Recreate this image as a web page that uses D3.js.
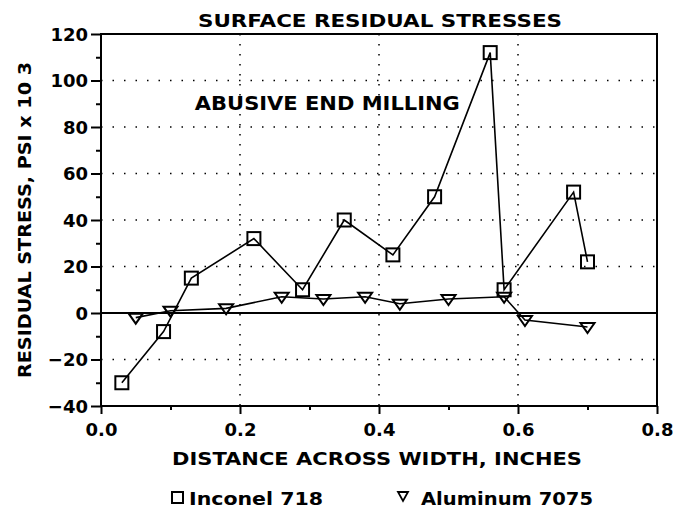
<!DOCTYPE html>
<html>
<head>
<meta charset="utf-8">
<script src="https://cdn.jsdelivr.net/npm/d3@7"></script>
<style>
  body { margin: 0; background: #fff; }
  text { font-family: "DejaVu Sans", sans-serif; font-weight: bold; fill: #000; }
</style>
</head>
<body>
<div id="chart"></div>
<script>
// data
const inconelX = [0.03, 0.09, 0.13, 0.22, 0.29, 0.35, 0.42, 0.48, 0.56, 0.58, 0.68, 0.70]
const inconelY = [-30, -8, 15, 32, 10, 40, 25, 50, 112, 10, 52, 22]
const aluminumX = [0.05, 0.10, 0.18, 0.26, 0.32, 0.38, 0.43, 0.50, 0.58, 0.61, 0.70]
const aluminumY = [-2, 1, 2, 7, 6, 7, 4, 6, 7, -3, -6]
const xTicks = [0.0, 0.2, 0.4, 0.6, 0.8]
const yTicks = [-40, -20, 0, 20, 40, 60, 80, 100, 120]

const W = 673, H = 509
const margin = { top: 34, right: 16, bottom: 103, left: 101 }
const width = W - margin.left - margin.right,
  height = H - margin.top - margin.bottom

const svg = d3.select("#chart").append("svg")
  .attr("width", W)
  .attr("height", H)

const g = svg.append("g")
  .attr("transform", `translate(${margin.left},${margin.top})`)

const x = d3.scaleLinear().domain([0, 0.8]).range([0, width])
const y = d3.scaleLinear().domain([-40, 120]).range([height, 0])

// dotted grid
g.selectAll(".gx")
  .data(xTicks.slice(1, -1))
  .join("line")
  .attr("x1", d => x(d)).attr("x2", d => x(d))
  .attr("y1", 0).attr("y2", height)
  .attr("stroke", "#000").attr("stroke-width", 1.5)
  .attr("stroke-dasharray", "1.5 8.5")
g.selectAll(".gy")
  .data(yTicks.filter(d => d != 0 && d != -40 && d != 120))
  .join("line")
  .attr("x1", 0).attr("x2", width)
  .attr("y1", d => y(d)).attr("y2", d => y(d))
  .attr("stroke", "#000").attr("stroke-width", 1.5)
  .attr("stroke-dasharray", "1.5 10")

// zero line
g.append("line")
  .attr("x1", 0).attr("x2", width)
  .attr("y1", y(0)).attr("y2", y(0))
  .attr("stroke", "#000").attr("stroke-width", 2)

// frame
g.append("rect")
  .attr("width", width).attr("height", height)
  .attr("fill", "none").attr("stroke", "#000").attr("stroke-width", 2)

// axes
const yAxis = g.append("g")
  .call(d3.axisLeft(y).tickValues(yTicks).tickSize(10).tickPadding(3))
const yMinor = g.append("g")
  .call(d3.axisLeft(y).tickValues(d3.range(-30, 120, 20)).tickSize(5).tickFormat(""))
const xAxis = g.append("g")
  .attr("transform", `translate(0,${height})`)
  .call(d3.axisBottom(x).tickValues(xTicks).tickSize(8).tickPadding(9).tickFormat(d3.format(".1f")))
const xMinor = g.append("g")
  .attr("transform", `translate(0,${height})`)
  .call(d3.axisBottom(x).tickValues([0.1, 0.3, 0.5, 0.7]).tickSize(4).tickFormat(""))

;[yAxis, yMinor, xAxis, xMinor].forEach(a => {
  a.select(".domain").remove()
  a.selectAll("line").attr("stroke-width", 2)
  a.selectAll("text").style("font-size", "18px")
    .style("font-family", "DejaVu Sans").style("font-weight", "bold")
})
yAxis.selectAll("text").attr("dy", "0.35em")
  .text(d => d < 0 ? "\u2212" + Math.abs(d) : d)

// series
const line = d3.line().x(d => x(d[0])).y(d => y(d[1]))
const inconel = inconelX.map((v, i) => [v, inconelY[i]])
const aluminum = aluminumX.map((v, i) => [v, aluminumY[i]])

g.append("path").datum(inconel).attr("d", line)
  .attr("fill", "none").attr("stroke", "#000").attr("stroke-width", 1.6)
g.append("path").datum(aluminum).attr("d", line)
  .attr("fill", "none").attr("stroke", "#000").attr("stroke-width", 1.6)

g.selectAll(".sq").data(inconel).join("rect")
  .attr("x", d => x(d[0]) - 6.5).attr("y", d => y(d[1]) - 6.5)
  .attr("width", 13).attr("height", 13)
  .attr("fill", "none").attr("stroke", "#000").attr("stroke-width", 2)

const tri = "M-7,-4L7,-4L0,6Z"
g.selectAll(".tri").data(aluminum).join("path")
  .attr("transform", d => `translate(${x(d[0])},${y(d[1])})`)
  .attr("d", tri)
  .attr("fill", "none").attr("stroke", "#000").attr("stroke-width", 2)

// texts
svg.append("text").attr("x", 198).attr("y", 27)
  .attr("textLength", 364).attr("lengthAdjust", "spacingAndGlyphs")
  .style("font-size", "18px")
  .text("SURFACE RESIDUAL STRESSES")
g.append("text").attr("x", x(0.135)).attr("y", y(90))
  .attr("dy", "0.35em").style("font-size", "19px")
  .attr("textLength", 265).attr("lengthAdjust", "spacingAndGlyphs")
  .text("ABUSIVE END MILLING")
svg.append("text").attr("x", 172).attr("y", 465)
  .attr("textLength", 410).attr("lengthAdjust", "spacingAndGlyphs")
  .style("font-size", "18px")
  .text("DISTANCE ACROSS WIDTH, INCHES")
svg.append("text")
  .attr("transform", `translate(31,${margin.top + height / 2}) rotate(-90)`)
  .attr("text-anchor", "middle").style("font-size", "18px")
  .attr("textLength", 316).attr("lengthAdjust", "spacingAndGlyphs")
  .text("RESIDUAL STRESS, PSI x 10 3")

// legend
const legend = svg.append("g").attr("transform", "translate(0,497)")
legend.append("rect").attr("x", 172).attr("y", -5).attr("width", 11).attr("height", 11)
  .attr("fill", "none").attr("stroke", "#000").attr("stroke-width", 2)
legend.append("text").attr("x", 189).attr("y", 8)
  .attr("textLength", 134).attr("lengthAdjust", "spacingAndGlyphs")
  .style("font-size", "18px").text("Inconel 718")
legend.append("path").attr("transform", "translate(403,-1)").attr("d", "M-5,-4L5,-4L0,5Z")
  .attr("fill", "none").attr("stroke", "#000").attr("stroke-width", 1.8)
legend.append("text").attr("x", 421).attr("y", 8)
  .attr("textLength", 172).attr("lengthAdjust", "spacingAndGlyphs")
  .style("font-size", "18px").text("Aluminum 7075")
</script>
</body>
</html>
